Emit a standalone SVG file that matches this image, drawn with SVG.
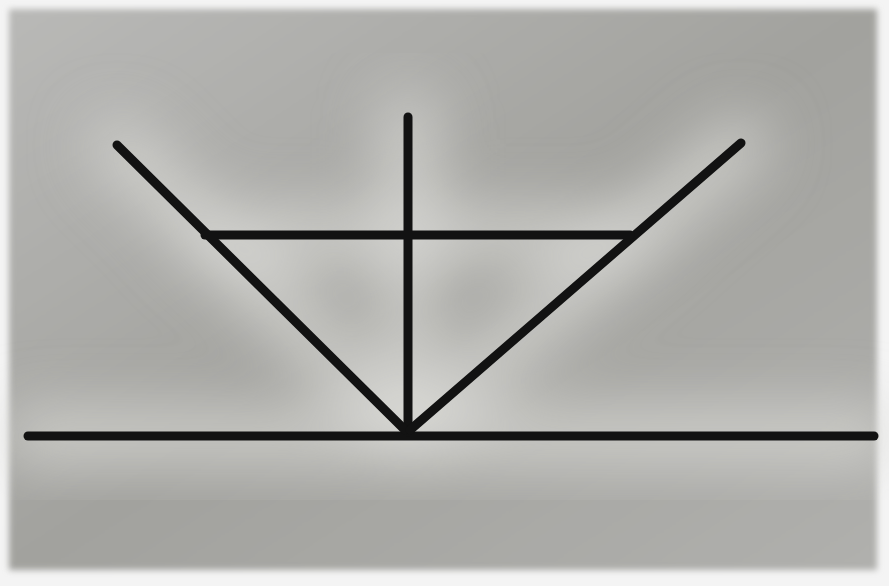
<svg xmlns="http://www.w3.org/2000/svg" width="889" height="586" viewBox="0 0 889 586">
  <defs>
    <filter id="edge" x="-5%" y="-5%" width="110%" height="110%">
      <feGaussianBlur stdDeviation="3"/>
    </filter>
    <filter id="glow" x="-20%" y="-20%" width="140%" height="140%">
      <feGaussianBlur stdDeviation="30"/>
    </filter>
    <linearGradient id="bg" x1="0" y1="0" x2="1" y2="1">
      <stop offset="0" stop-color="#b9b9b7"/>
      <stop offset="0.5" stop-color="#a2a29e"/>
      <stop offset="1" stop-color="#b0b0ad"/>
    </linearGradient>
  </defs>
  <style>
    .ln { stroke: #121212; stroke-width: 9; stroke-linecap: round; fill: none; }
    .gl { stroke: #dcdcd8; stroke-width: 55; stroke-linecap: round; fill: none; opacity: 0.75; }
  </style>
  <rect width="889" height="586" fill="#f4f4f4"/>
  <rect x="9" y="9" width="868" height="561" fill="url(#bg)" filter="url(#edge)"/>
  <g filter="url(#glow)">
    <line class="gl" x1="28" y1="436" x2="874" y2="436"/>
    <line class="gl" x1="408" y1="117" x2="408" y2="432"/>
    <line class="gl" x1="117" y1="145" x2="405" y2="430"/>
    <line class="gl" x1="741" y1="143" x2="410" y2="430"/>
    <line class="gl" x1="205" y1="235" x2="630" y2="235"/>
  </g>
  <g id="connectors">
    <line class="ln" x1="28" y1="436" x2="874" y2="436"/>
    <line class="ln" x1="408" y1="117" x2="408" y2="432"/>
    <line class="ln" x1="117" y1="145" x2="405" y2="430"/>
    <line class="ln" x1="741" y1="143" x2="410" y2="430"/>
    <line class="ln" x1="205" y1="235" x2="630" y2="235"/>
  </g>
</svg>
